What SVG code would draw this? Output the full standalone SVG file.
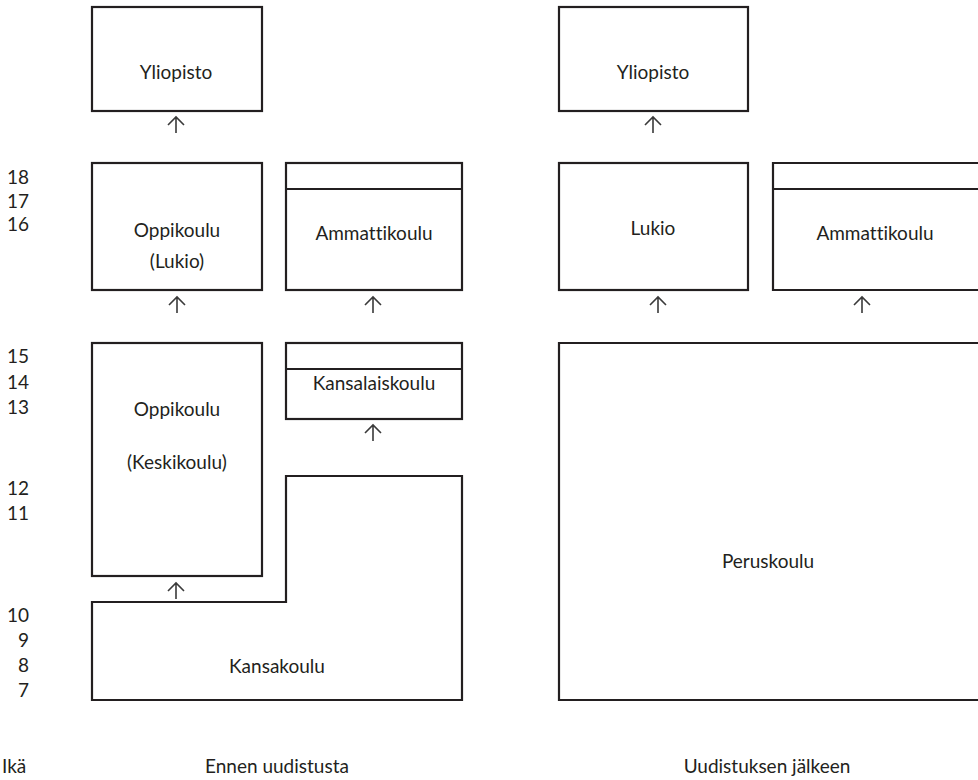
<svg xmlns="http://www.w3.org/2000/svg" width="978" height="780" viewBox="0 0 978 780">
<style>
.b{fill:none;stroke:#231f20;stroke-width:2.2}
.t,.n,.l{font-family:Lato,"Open Sans","Liberation Sans",sans-serif;font-size:19px;fill:#231f20;font-variant-ligatures:none;font-feature-settings:"liga" 0}
.t{text-anchor:middle}
.n{text-anchor:end}
.a{fill:none;stroke:#3a3a3a;stroke-width:1.6}
</style>
<rect width="978" height="780" fill="#fff"/>
<g id="ages">
<text class="n" x="29" y="184">18</text>
<text class="n" x="29" y="208">17</text>
<text class="n" x="29" y="231">16</text>
<text class="n" x="29" y="363">15</text>
<text class="n" x="29" y="389">14</text>
<text class="n" x="29" y="414">13</text>
<text class="n" x="29" y="495">12</text>
<text class="n" x="29" y="520">11</text>
<text class="n" x="29" y="622">10</text>
<text class="n" x="29" y="647">9</text>
<text class="n" x="29" y="672">8</text>
<text class="n" x="29" y="697">7</text>
</g>
<g id="yliopisto-vanha">
<rect class="b" x="92" y="7" width="170" height="104"/>
<text class="t" x="176" y="79">Yliopisto</text>
</g>
<g id="oppikoulu-lukio">
<rect class="b" x="92" y="163" width="170" height="127"/>
<text class="t" x="177" y="237">Oppikoulu</text>
<text class="t" x="177" y="268">(Lukio)</text>
</g>
<g id="ammattikoulu-vanha">
<rect class="b" x="286" y="163" width="176" height="127"/>
<line class="b" x1="286" y1="189" x2="462" y2="189"/>
<text class="t" x="374" y="240">Ammattikoulu</text>
</g>
<g id="oppikoulu-keskikoulu">
<rect class="b" x="92" y="343" width="170" height="233"/>
<text class="t" x="177" y="416">Oppikoulu</text>
<text class="t" x="177" y="469">(Keskikoulu)</text>
</g>
<g id="kansalaiskoulu">
<rect class="b" x="286" y="343" width="176" height="76"/>
<line class="b" x1="286" y1="369" x2="462" y2="369"/>
<text class="t" x="374" y="390">Kansalaiskoulu</text>
</g>
<g id="kansakoulu">
<path class="b" d="M92 602 H286 V476 H462 V700 H92 Z"/>
<text class="t" x="277" y="673">Kansakoulu</text>
</g>
<g id="yliopisto-uusi">
<rect class="b" x="559" y="7" width="189" height="104"/>
<text class="t" x="653" y="79">Yliopisto</text>
</g>
<g id="lukio">
<rect class="b" x="559" y="163" width="189" height="127"/>
<text class="t" x="653" y="235">Lukio</text>
</g>
<g id="ammattikoulu-uusi">
<path class="b" d="M990 163 H773 V290 H990"/>
<line class="b" x1="773" y1="189" x2="990" y2="189"/>
<text class="t" x="875" y="240">Ammattikoulu</text>
</g>
<g id="peruskoulu">
<path class="b" d="M990 343 H559 V700 H990"/>
<text class="t" x="768" y="568">Peruskoulu</text>
</g>
<g id="connectors">
<path class="a" d="M176 133 V117 M168 125 L176 117 L184 125"/>
<path class="a" d="M653 133 V117 M645 125 L653 117 L661 125"/>
<path class="a" d="M177 313 V297 M169 305 L177 297 L185 305"/>
<path class="a" d="M373 313 V297 M365 305 L373 297 L381 305"/>
<path class="a" d="M658 313 V297 M650 305 L658 297 L666 305"/>
<path class="a" d="M862 313 V297 M854 305 L862 297 L870 305"/>
<path class="a" d="M373 441 V425 M365 433 L373 425 L381 433"/>
<path class="a" d="M176 599 V583 M168 591 L176 583 L184 591"/>
</g>
<g id="labels">
<text class="l" x="2" y="773">Ikä</text>
<text class="t" x="277" y="773">Ennen uudistusta</text>
<text class="t" x="767" y="773">Uudistuksen jälkeen</text>
</g>
</svg>
